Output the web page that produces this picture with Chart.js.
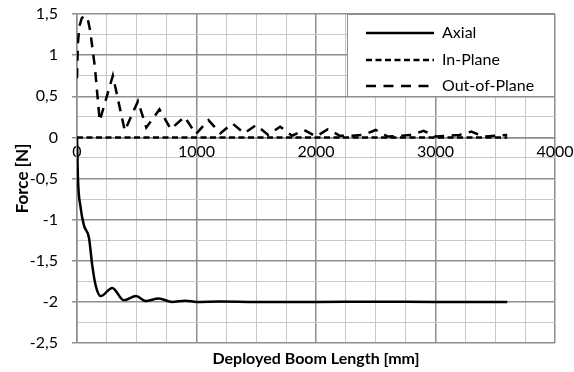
<!DOCTYPE html>
<html>
<head>
<meta charset="utf-8">
<script src="https://cdn.jsdelivr.net/npm/chart.js@4.4.1/dist/chart.umd.min.js"></script>
<style>
  body { margin: 0; background: #fff; }
  #wrap { width: 574px; height: 372px; }
</style>
</head>
<body>
<div id="wrap"><canvas id="forceChart"></canvas></div>
<script>
const axialX = [0, 8, 30, 58, 100, 128, 156, 198, 295, 392, 495, 573, 685, 796, 907, 1000, 1200, 1500, 2000, 2500, 3000, 3600];
const axialY = [0, -0.5, -0.85, -1.07, -1.22, -1.56, -1.8, -1.93, -1.83, -1.98, -1.93, -1.99, -1.96, -2.0, -1.985, -2.0, -1.995, -2.0, -2.0, -1.997, -2.0, -2.0];

const inPlaneX = [0, 3600];
const inPlaneY = [0, 0];

const outPlaneX = [0, 8, 20, 40, 65, 90, 110, 150, 190, 300, 400, 510, 580, 690, 785, 900, 995,
  1100, 1200, 1300, 1400, 1500, 1600, 1700, 1800, 1900, 2000, 2100, 2200, 2300, 2400, 2500,
  2600, 2700, 2800, 2900, 3000, 3100, 3200, 3300, 3400, 3500, 3600];
const outPlaneY = [0.72, 1.15, 1.35, 1.45, 1.48, 1.44, 1.3, 0.85, 0.2, 0.75, 0.08, 0.44, 0.12, 0.34, 0.1, 0.25, 0.04,
  0.21, 0.05, 0.17, 0.05, 0.15, 0.03, 0.13, 0.02, 0.09, 0.01, 0.1, 0.02, 0.02, 0.03, 0.09,
  0.01, 0.02, 0.03, 0.08, 0.01, 0.02, 0.03, 0.07, 0.01, 0.02, 0.03];

const xTicks = [0, 1000, 2000, 3000, 4000];
const yMin = -2.5, yMax = 1.5;

const legendItems = [
  { label: "Axial", dash: [] },
  { label: "In-Plane", dash: [6, 3.5] },
  { label: "Out-of-Plane", dash: [10, 7.5] },
];

const FONT = "Lato";
const majorGrid = "#8e8e8e";
const minorGrid = "#c8c8c8";

function toPoints(xs, ys) {
  return xs.map((x, i) => ({ x: x, y: ys[i] }));
}

function isMajorY(v) {
  return Math.abs(Math.round(v * 2) - v * 2) < 1e-6;
}

const boxLegend = {
  id: "boxLegend",
  afterDraw(chart) {
    const ctx = chart.ctx;
    const area = chart.chartArea;
    const x0 = 347, y0 = area.top, x1 = area.right, y1 = 97;
    ctx.save();
    ctx.fillStyle = "#fff";
    ctx.fillRect(x0, y0, x1 - x0, y1 - y0);
    ctx.strokeStyle = majorGrid;
    ctx.lineWidth = 1;
    ctx.strokeRect(x0 + 0.5, y0 + 0.5, x1 - x0 - 1, y1 - y0 - 1);
    ctx.font = "16px " + FONT;
    ctx.textBaseline = "middle";
    ctx.fillStyle = "#000";
    const rows = [33, 60, 86];
    legendItems.forEach((item, i) => {
      ctx.beginPath();
      ctx.setLineDash(item.dash);
      ctx.lineWidth = 2.5;
      ctx.strokeStyle = "#000";
      ctx.moveTo(366, rows[i]);
      ctx.lineTo(434, rows[i]);
      ctx.stroke();
      ctx.setLineDash([]);
      ctx.fillText(item.label, 442, rows[i]);
    });
    ctx.restore();
  },
};

const ctx = document.getElementById("forceChart").getContext("2d");
const forceChart = new Chart(ctx, {
  type: "line",
  data: {
    datasets: [
      {
        label: "Axial",
        data: toPoints(axialX, axialY),
        borderColor: "#000",
        borderWidth: 2.5,
        pointRadius: 0,
        cubicInterpolationMode: "monotone",
        tension: 0.4,
      },
      {
        label: "In-Plane",
        data: toPoints(inPlaneX, inPlaneY),
        borderColor: "#000",
        borderWidth: 2.5,
        borderDash: [6, 3.5],
        pointRadius: 0,
      },
      {
        label: "Out-of-Plane",
        data: toPoints(outPlaneX, outPlaneY),
        borderColor: "#000",
        borderWidth: 2.5,
        borderDash: [10, 7.5],
        pointRadius: 0,
        tension: 0,
      },
    ],
  },
  options: {
    responsive: true,
    maintainAspectRatio: false,
    animation: false,
    layout: { padding: { top: 14, right: 19, left: 0, bottom: 0 } },
    plugins: {
      legend: { display: false },
      tooltip: { enabled: false },
    },
    scales: {
      x: {
        type: "linear",
        position: { y: 0 },
        min: 0,
        max: 4000,
        ticks: {
          stepSize: 250,
          autoSkip: false,
          maxRotation: 0,
          padding: 5,
          color: "#000",
          font: { family: FONT, size: 16 },
          callback: (v) => (xTicks.includes(v) ? String(v) : ""),
        },
        grid: {
          drawTicks: false,
          color: (c) => (c.tick && c.tick.value % 1000 === 0 ? majorGrid : minorGrid),
          lineWidth: (c) => (c.tick && c.tick.value % 1000 === 0 ? 1.5 : 1),
        },
        border: { color: majorGrid, width: 1.5 },
        afterFit: (scale) => { scale.paddingLeft = 0; scale.paddingRight = 0; },
      },
      xt: {
        type: "linear",
        position: "bottom",
        min: 0,
        max: 4000,
        ticks: { display: false },
        grid: { display: false },
        border: { display: false },
        title: {
          display: true,
          text: "Deployed Boom Length [mm]",
          color: "#000",
          font: { family: FONT, size: 16, weight: "bold" },
          padding: { top: 0, bottom: 4 },
        },
        afterFit: (scale) => { scale.height = 29; scale.paddingLeft = 0; scale.paddingRight = 0; },
      },
      y: {
        type: "linear",
        min: yMin,
        max: yMax,
        ticks: {
          stepSize: 0.25,
          autoSkip: false,
          padding: 14,
          color: "#000",
          font: { family: FONT, size: 16 },
          callback: (v) => (isMajorY(v) ? String(Math.round(v * 2) / 2).replace(".", ",") : ""),
        },
        grid: {
          tickLength: 5,
          color: (c) => (c.tick && isMajorY(c.tick.value) ? majorGrid : minorGrid),
          tickColor: (c) => (c.tick && isMajorY(c.tick.value) ? majorGrid : "rgba(0,0,0,0)"),
          lineWidth: (c) => (c.tick && isMajorY(c.tick.value) ? 1.5 : 1),
        },
        border: { color: majorGrid, width: 1.5 },
        title: {
          display: true,
          text: "Force [N]",
          color: "#000",
          font: { family: FONT, size: 17, weight: "bold" },
          padding: { top: 12, bottom: 0 },
        },
        afterFit: (scale) => { scale.width = 77; scale.paddingTop = 0; scale.paddingBottom = 0; },
      },
    },
  },
  plugins: [boxLegend],
});
</script>
</body>
</html>
